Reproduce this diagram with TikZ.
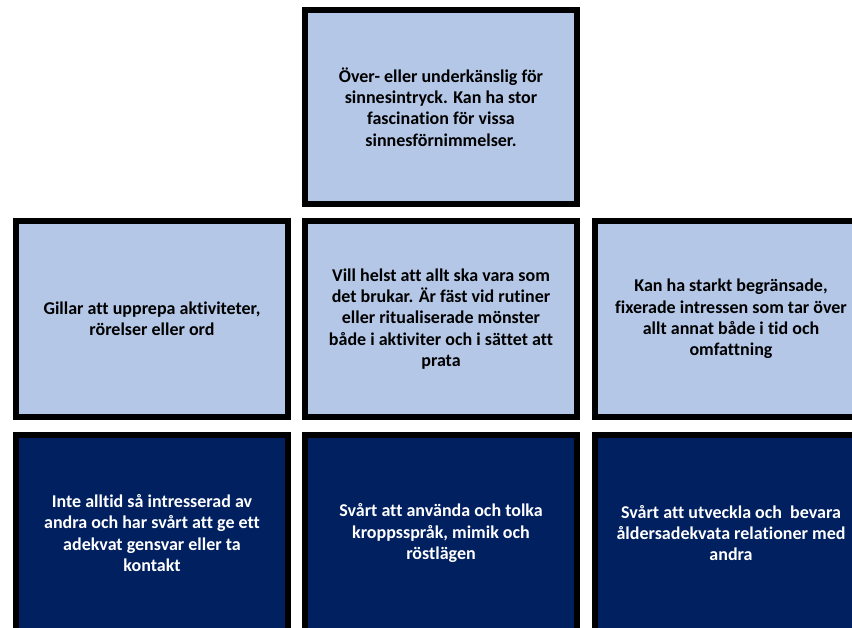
\documentclass[tikz,border=0pt]{standalone}
\usepackage{fontspec}
\setmainfont{Carlito}[Ligatures={NoCommon}]
\definecolor{lightfill}{HTML}{B4C7E7}
\definecolor{darkfill}{HTML}{002060}
\tikzset{
  cell/.style={rectangle, draw=black, line width=6pt, minimum width=272pt, minimum height=194pt,
    inner sep=0pt, align=center, font=\fontsize{18}{21.2}\selectfont\bfseries},
  lightcell/.style={cell, fill=lightfill, text=black},
  darkcell/.style={cell, fill=darkfill, text=white, minimum height=196pt},
  rowcell/.style={lightcell, minimum height=196pt},
}
\begin{document}
\begin{tikzpicture}[x=1pt,y=1pt]
\useasboundingbox (0,0) rectangle (852,-627);
\clip (0,0) rectangle (852,-627);
\node[lightcell] (top) at (441,-107) {Över- eller underkänslig för\\sinnesintryck. Kan ha stor\\fascination för vissa\\sinnesförnimmelser.};
\node[rowcell] (ml) at (152,-319) {Gillar att upprepa aktiviteter,\\rörelser eller ord};
\node[rowcell] (mc) at (441,-319) {Vill helst att allt ska vara som\\det brukar. Är fäst vid rutiner\\eller ritualiserade mönster\\både i aktiviter och i sättet att\\prata};
\node[rowcell] (mr) at (731,-319) {Kan ha starkt begränsade,\\fixerade intressen som tar över\\allt annat både i tid och\\omfattning};
\node[darkcell] (bl) at (152,-533) {Inte alltid så intresserad av\\andra och har svårt att ge ett\\adekvat gensvar eller ta\\kontakt};
\node[darkcell] (bc) at (441,-533) {Svårt att använda och tolka\\kroppsspråk, mimik och\\röstlägen};
\node[darkcell] (br) at (731,-533) {Svårt att utveckla och\ \ bevara\\åldersadekvata relationer med\\andra};
\end{tikzpicture}
\end{document}
